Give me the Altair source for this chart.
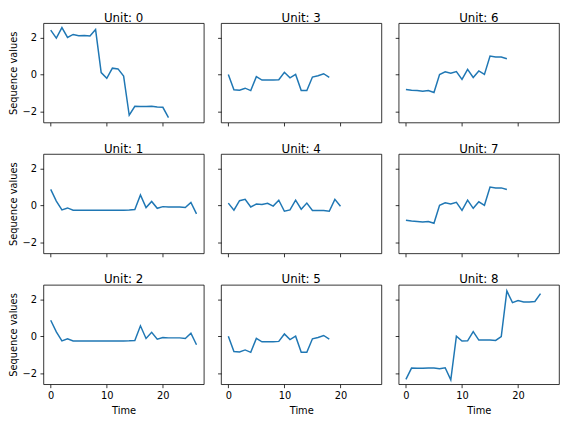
import altair as alt
import pandas as pd

# ---- data ----
unit0 = [2.39, 1.96, 2.53, 2.0, 2.16, 2.09, 2.1, 2.07, 2.42, 0.1, -0.21, 0.34, 0.3, -0.09,
         -2.2, -1.72, -1.73, -1.73, -1.72, -1.75, -1.77, -2.33]
unit1 = [0.86, 0.23, -0.25, -0.14, -0.26, -0.26, -0.26, -0.26, -0.26, -0.26, -0.26, -0.26,
         -0.26, -0.26, -0.25, -0.23, 0.56, -0.12, 0.21, -0.16, -0.07, -0.09, -0.09, -0.09,
         -0.12, 0.16, -0.46]
unit2 = list(unit1)
unit3 = [0.0, -0.83, -0.85, -0.74, -0.87, -0.12, -0.3, -0.3, -0.3, -0.28, 0.12, -0.18, 0.0,
         -0.87, -0.87, -0.14, -0.07, 0.04, -0.16]
unit4 = [0.12, -0.26, 0.25, 0.32, -0.09, 0.07, 0.05, 0.11, -0.04, 0.28, -0.32, -0.25, 0.28,
         -0.21, 0.12, -0.28, -0.28, -0.28, -0.32, 0.32, -0.05]
unit5 = list(unit3)
unit6 = [-0.81, -0.85, -0.87, -0.9, -0.87, -0.97, 0.0, 0.14, 0.07, 0.16, -0.27, 0.28, -0.16,
         0.19, 0.0, 0.99, 0.94, 0.94, 0.85]
unit7 = list(unit6)
unit8 = [-2.33, -1.72, -1.73, -1.73, -1.72, -1.72, -1.75, -1.7, -2.35, 0.0, -0.26, -0.25, 0.25,
         -0.21, -0.21, -0.21, -0.23, -0.02, 2.44, 1.81, 1.92, 1.85, 1.85, 1.87, 2.3]

series = [unit0, unit1, unit2, unit3, unit4, unit5, unit6, unit7, unit8]
x_ticks = [0, 10, 20]
y_ticks = [-2, 0, 2]
x_domain = [-1.3, 27.3]
y_domain = [-2.59, 2.77]

rows = []
for u, vals in enumerate(series):
    for t, v in enumerate(vals):
        rows.append({"unit": u, "time": t, "value": v})
df = pd.DataFrame(rows)

W, H = 163, 101


def panel(u, r, c):
    xaxis = dict(values=x_ticks, labels=(r == 2))
    if r == 2:
        xaxis["title"] = "Time"
    else:
        xaxis["title"] = None
    yaxis = dict(values=y_ticks, labels=(c == 0))
    if c == 0:
        yaxis["title"] = "Sequence values"
    else:
        yaxis["title"] = None
    return (
        alt.Chart(df[df.unit == u])
        .mark_line(color="#1f77b4", strokeWidth=1.5)
        .encode(
            x=alt.X("time:Q", scale=alt.Scale(domain=x_domain, nice=False, zero=False),
                    axis=alt.Axis(**xaxis)),
            y=alt.Y("value:Q", scale=alt.Scale(domain=y_domain, nice=False, zero=False),
                    axis=alt.Axis(**yaxis)),
        )
        .properties(width=W, height=H,
                    title=alt.TitleParams(f"Unit: {u}", fontSize=12, font="DejaVu Sans",
                                          fontWeight="normal", color="black", offset=-1.5,
                                          anchor="middle"))
    )


grid_rows = []
for r in range(3):
    grid_rows.append(alt.hconcat(*[panel(c * 3 + r, r, c) for c in range(3)], spacing=11.5))

chart = (
    alt.vconcat(*grid_rows, spacing=15)
    .properties(padding={"left": 0, "top": 0, "right": 0, "bottom": 0})
    .configure_view(stroke="black", strokeWidth=0.8)
    .configure_axis(
        domain=False, grid=False, ticks=True, tickColor="black", tickSize=3.5, tickWidth=0.8,
        labelFont="DejaVu Sans", labelFontSize=10, labelColor="black", labelPadding=3.5,
        titleFont="DejaVu Sans", titleFontSize=10, titleFontWeight="normal", titleColor="black",
    )
    .configure_axisX(titlePadding=5)
    .configure_axisY(titlePadding=3.3)
)

chart.save("out.html", embed_options={"renderer": "svg", "actions": False})
